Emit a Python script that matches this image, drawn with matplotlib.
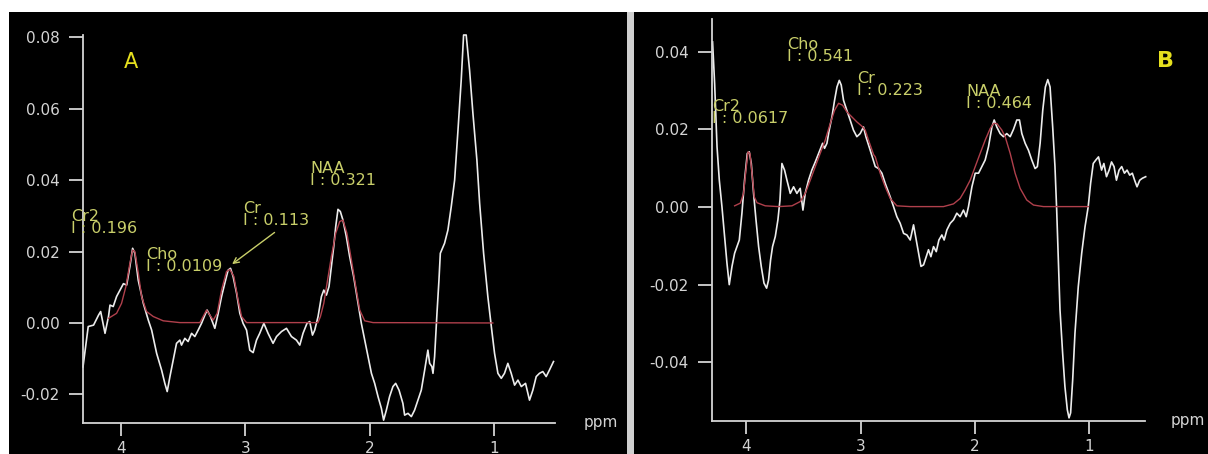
import numpy as np
import matplotlib
matplotlib.use("Agg")
import matplotlib.pyplot as plt
from matplotlib.patches import Rectangle

# spectrum A (white trace) : ppm, signal
a_ppm = [4.305, 4.263, 4.22, 4.18, 4.163, 4.128, 4.10, 4.088, 4.062, 4.035, 4.008, 3.98, 3.954, 3.928,
         3.906, 3.888, 3.861, 3.82, 3.78, 3.753, 3.713, 3.673, 3.647, 3.628, 3.606, 3.58, 3.553, 3.526,
         3.513, 3.486, 3.46, 3.432, 3.406, 3.379, 3.352, 3.325, 3.307, 3.28, 3.245, 3.218, 3.191, 3.165,
         3.138, 3.119, 3.098, 3.07, 3.044, 3.018, 2.99, 2.964, 2.937, 2.91, 2.884, 2.851, 2.817, 2.777,
         2.749, 2.709, 2.669, 2.629, 2.589, 2.562, 2.536, 2.504, 2.482, 2.46, 2.442, 2.415, 2.388, 2.369,
         2.348, 2.327, 2.308, 2.289, 2.273, 2.255, 2.236, 2.215, 2.188, 2.161, 2.129, 2.094, 2.067, 2.04,
         2.014, 1.986, 1.96, 1.933, 1.906, 1.888, 1.866, 1.84, 1.813, 1.791, 1.764, 1.733, 1.719, 1.692,
         1.665, 1.639, 1.612, 1.585, 1.558, 1.532, 1.518, 1.50, 1.491, 1.478, 1.459, 1.443, 1.432, 1.398,
         1.371, 1.344, 1.317, 1.29, 1.264, 1.245, 1.224, 1.197, 1.17, 1.138, 1.116, 1.084, 1.05, 1.022,
         0.996, 0.969, 0.942, 0.916, 0.889, 0.862, 0.835, 0.808, 0.781, 0.747, 0.715, 0.688, 0.661, 0.635,
         0.608, 0.581, 0.555, 0.522]
a_signal = [-0.0123, -0.0010, -0.0006, 0.0022, 0.0032, -0.0029, 0.0018, 0.0050, 0.0046, 0.0074, 0.0092,
            0.0110, 0.0106, 0.0158, 0.0209, 0.0195, 0.0120, 0.0055, 0.0008, -0.0020, -0.0085, -0.0132,
            -0.0169, -0.0192, -0.0150, -0.0104, -0.0057, -0.0048, -0.0062, -0.0043, -0.0052, -0.0029,
            -0.0038, -0.0020, -0.0001, 0.0022, 0.0036, 0.0018, -0.0015, 0.0027, 0.0074, 0.0111, 0.0148,
            0.0153, 0.0130, 0.0083, 0.0027, -0.0001, -0.0020, -0.0076, -0.0083, -0.0048, -0.0029, -0.0001,
            -0.0029, -0.0057, -0.0038, -0.0024, -0.0015, -0.0038, -0.0048, -0.0062, -0.0029, -0.0001,
            0.0004, -0.0034, -0.0020, 0.0018, 0.0074, 0.0092, 0.0078, 0.0102, 0.0158, 0.0214, 0.0270,
            0.0318, 0.0312, 0.0288, 0.0242, 0.0186, 0.0130, 0.0055, -0.0001, -0.0048, -0.0094, -0.0141,
            -0.0169, -0.0206, -0.0239, -0.0272, -0.0244, -0.0206, -0.0178, -0.0169, -0.0188, -0.0225,
            -0.0258, -0.0253, -0.0262, -0.0244, -0.0216, -0.0188, -0.0132, -0.0076, -0.0113, -0.0122,
            -0.0141, -0.0094, 0.0027, 0.0120, 0.0195, 0.0223, 0.0260, 0.0326, 0.0400, 0.0540, 0.0680,
            0.0806, 0.0806, 0.0708, 0.0587, 0.0456, 0.0335, 0.0195, 0.0074, -0.0010, -0.0085, -0.0141,
            -0.0155, -0.0141, -0.0113, -0.0141, -0.0174, -0.0160, -0.0178, -0.0169, -0.0216, -0.0188,
            -0.0150, -0.0141, -0.0136, -0.0150, -0.0132, -0.0108]

# spectrum A fitted curve
a_fit_ppm = [4.10, 4.035, 3.995, 3.96, 3.928, 3.906, 3.888, 3.86, 3.834, 3.794, 3.74, 3.66, 3.526, 3.365,
             3.333, 3.312, 3.285, 3.258, 3.226, 3.191, 3.151, 3.124, 3.092, 3.058, 3.03, 2.99, 2.416,
             2.396, 2.369, 2.343, 2.308, 2.273, 2.241, 2.215, 2.183, 2.147, 2.112, 2.08, 2.04, 1.973, 1.01]
a_fit = [0.0013, 0.0027, 0.0055, 0.0102, 0.0167, 0.0204, 0.0200, 0.0139, 0.0074, 0.0032, 0.0018, 0.0006,
         0.0001, 0.0001, 0.0022, 0.0036, 0.0022, 0.0008, 0.0027, 0.0092, 0.0144, 0.0150, 0.0130, 0.0064,
         0.0018, 0.0001, 0.0001, 0.0018, 0.0055, 0.0110, 0.0186, 0.0251, 0.0284, 0.0288, 0.0251, 0.0176,
         0.0102, 0.0036, 0.0006, 0.0001, 0.0000]

# spectrum B (white trace)
b_ppm = [4.295, 4.277, 4.256, 4.236, 4.213, 4.19, 4.169, 4.149, 4.125, 4.102, 4.081, 4.061, 4.038, 4.015,
         3.991, 3.974, 3.956, 3.936, 3.915, 3.892, 3.869, 3.845, 3.822, 3.805, 3.787, 3.77, 3.746, 3.723,
         3.705, 3.688, 3.665, 3.644, 3.615, 3.586, 3.557, 3.528, 3.504, 3.484, 3.455, 3.426, 3.396, 3.367,
         3.344, 3.332, 3.315, 3.294, 3.274, 3.25, 3.227, 3.206, 3.186, 3.169, 3.149, 3.12, 3.091, 3.062,
         3.032, 3.003, 2.974, 2.953, 2.915, 2.871, 2.842, 2.813, 2.784, 2.74, 2.711, 2.682, 2.653, 2.623,
         2.594, 2.565, 2.536, 2.512, 2.492, 2.471, 2.448, 2.425, 2.405, 2.384, 2.361, 2.337, 2.314, 2.288,
         2.268, 2.244, 2.215, 2.186, 2.157, 2.128, 2.099, 2.075, 2.055, 2.025, 1.996, 1.967, 1.938, 1.909,
         1.88, 1.85, 1.83, 1.807, 1.778, 1.749, 1.72, 1.69, 1.661, 1.632, 1.609, 1.588, 1.559, 1.53, 1.501,
         1.472, 1.452, 1.428, 1.405, 1.382, 1.361, 1.341, 1.318, 1.298, 1.283, 1.269, 1.254, 1.231, 1.211,
         1.19, 1.175, 1.161, 1.143, 1.123, 1.094, 1.064, 1.035, 1.007, 0.986, 0.963, 0.94, 0.917, 0.89,
         0.87, 0.847, 0.824, 0.803, 0.781, 0.76, 0.737, 0.714, 0.69, 0.667, 0.644, 0.621, 0.601, 0.58,
         0.556, 0.533, 0.504]
b_signal = [0.0425, 0.0318, 0.0155, 0.0069, 0.0001, -0.0076, -0.0145, -0.0200, -0.0153, -0.0119, -0.0102,
            -0.0085, -0.0016, 0.0069, 0.0138, 0.0142, 0.0112, 0.0035, -0.0033, -0.0102, -0.0153, -0.0196,
            -0.0209, -0.0188, -0.0136, -0.0102, -0.0076, -0.0033, 0.0018, 0.0112, 0.0095, 0.0069, 0.0035,
            0.0052, 0.0035, 0.0048, -0.0008, 0.0035, 0.0069, 0.0095, 0.0116, 0.0138, 0.0155, 0.0164, 0.0151,
            0.0164, 0.0198, 0.0232, 0.0275, 0.0309, 0.0326, 0.0314, 0.0275, 0.0249, 0.0224, 0.0198, 0.0181,
            0.0189, 0.0206, 0.0181, 0.0146, 0.0104, 0.0099, 0.0087, 0.0061, 0.0026, 0.0001, -0.0025, -0.0042,
            -0.0068, -0.0072, -0.0085, -0.0046, -0.0085, -0.0119, -0.0153, -0.0149, -0.0128, -0.0110,
            -0.0128, -0.0102, -0.0115, -0.0085, -0.0072, -0.0085, -0.0059, -0.0042, -0.0033, -0.0016,
            -0.0025, -0.0008, -0.0025, 0.0001, 0.0052, 0.0087, 0.0087, 0.0104, 0.0121, 0.0155, 0.0206,
            0.0224, 0.0206, 0.0189, 0.0181, 0.0189, 0.0181, 0.0200, 0.0224, 0.0224, 0.0189, 0.0164, 0.0146,
            0.0121, 0.0099, 0.0104, 0.0164, 0.0249, 0.0309, 0.0328, 0.0309, 0.0206, 0.0104, -0.0008, -0.0136,
            -0.0265, -0.0376, -0.0462, -0.0522, -0.0543, -0.0530, -0.0445, -0.0325, -0.0205, -0.0119,
            -0.0051, 0.0001, 0.0061, 0.0112, 0.0121, 0.0129, 0.0095, 0.0112, 0.0078, 0.0095, 0.0116, 0.0104,
            0.0069, 0.0095, 0.0104, 0.0087, 0.0095, 0.0082, 0.0087, 0.0069, 0.0052, 0.0069, 0.0074, 0.0078]

# spectrum B fitted curve
b_fit_ppm = [4.102, 4.052, 4.024, 4.003, 3.985, 3.968, 3.95, 3.93, 3.906, 3.834, 3.717, 3.6, 3.528, 3.484,
             3.44, 3.396, 3.353, 3.309, 3.265, 3.227, 3.192, 3.157, 3.12, 3.076, 3.032, 2.988, 2.959, 2.93,
             2.886, 2.871, 2.828, 2.784, 2.74, 2.682, 2.565, 2.274, 2.186, 2.128, 2.084, 2.04, 1.996, 1.953,
             1.909, 1.865, 1.836, 1.807, 1.763, 1.734, 1.69, 1.647, 1.603, 1.545, 1.486, 1.399, 1.005]
b_fit = [0.0003, 0.0010, 0.0035, 0.0095, 0.0142, 0.0138, 0.0087, 0.0026, 0.0011, 0.0003, 0.0001, 0.0003,
         0.0014, 0.0035, 0.0069, 0.0104, 0.0138, 0.0172, 0.0215, 0.0249, 0.0267, 0.0262, 0.0245, 0.0232,
         0.0219, 0.0208, 0.0198, 0.0172, 0.0135, 0.0129, 0.0087, 0.0052, 0.0022, 0.0003, 0.0001, 0.0001,
         0.0008, 0.0022, 0.0044, 0.0069, 0.0104, 0.0138, 0.0172, 0.0202, 0.0215, 0.0215, 0.0198, 0.0181,
         0.0138, 0.0087, 0.0048, 0.0018, 0.0005, 0.0001, 0.0001]

a_labels = ["Cr2\nI : 0.196", "Cho\nI : 0.0109", "Cr\nI : 0.113", "NAA\nI : 0.321"]
b_labels = ["Cr2\nI : 0.0617", "Cho\nI : 0.541", "Cr\nI : 0.223", "NAA\nI : 0.464"]
a_yticks = [0.08, 0.06, 0.04, 0.02, 0.00, -0.02]
b_yticks = [0.04, 0.02, 0.00, -0.04, -0.02]
x_ticks = [4, 3, 2, 1]

W, H = 1208, 454
fig = plt.figure(figsize=(W / 100, H / 100), dpi=100, facecolor="white")

# black screen panels and separator (behind the axes)
fig.patches.append(Rectangle((9 / W, 0), 618 / W, 442 / H, transform=fig.transFigure,
                             facecolor="black", edgecolor="none", zorder=-5))
fig.patches.append(Rectangle((627 / W, 0), 7 / W, 442 / H, transform=fig.transFigure,
                             facecolor="#cfcfcf", edgecolor="none", zorder=-5))
fig.patches.append(Rectangle((634 / W, 0), 574 / W, 442 / H, transform=fig.transFigure,
                             facecolor="black", edgecolor="none", zorder=-5))

txt_col = "#c9cf6a"
grey = "#d4d4d4"


def style_axes(ax, yticks, xlim, ylim):
    ax.set_facecolor("none")
    ax.set_xlim(*xlim)
    ax.set_ylim(*ylim)
    for s in ["top", "right"]:
        ax.spines[s].set_visible(False)
    for s in ["left", "bottom"]:
        ax.spines[s].set_color(grey)
        ax.spines[s].set_linewidth(1.3)
    ax.set_yticks(yticks)
    ax.set_yticklabels([f"{v:.2f}" for v in yticks])
    ax.set_xticks(x_ticks)
    ax.set_xticklabels([str(t) for t in x_ticks])
    ax.tick_params(axis="y", length=10, width=1.3, color=grey, labelcolor=grey, labelsize=11, pad=7)
    ax.tick_params(axis="x", length=9, width=1.3, color=grey, labelcolor=grey, labelsize=11, pad=4)
    ax.text(1.06, 0.0, "ppm", transform=ax.transAxes, color=grey, fontsize=11, va="center", ha="left")


# panel A
axA = fig.add_axes([83 / W, 31 / H, 472 / W, 388 / H])
style_axes(axA, a_yticks, (4.305, 0.51), (-0.028, 0.0806))
axA.plot(a_ppm, a_signal, color="#ececec", lw=1.2, clip_on=False)
axA.plot(a_fit_ppm, a_fit, color="#b0404c", lw=1.0, clip_on=False)
a_pos = [(4.40, 0.0318), (3.80, 0.0214), (3.02, 0.0340), (2.48, 0.0452)]
for (x, y), lab in zip(a_pos, a_labels):
    axA.text(x, y, lab, color=txt_col, fontsize=11.5, va="top", ha="left", linespacing=0.75)
axA.annotate("", xy=(3.124, 0.0160), xytext=(2.747, 0.0258),
             arrowprops=dict(arrowstyle="->", color=txt_col, lw=1.0))
axA.text(3.92, 0.073, "A", color="#e6e01e", fontsize=15, ha="center", va="center")

# panel B
axB = fig.add_axes([712 / W, 33 / H, 433 / W, 402 / H])
style_axes(axB, b_yticks, (4.30, 0.51), (-0.0551, 0.0484))
axB.plot(b_ppm, b_signal, color="#ececec", lw=1.2, clip_on=False)
axB.plot(b_fit_ppm, b_fit, color="#b0404c", lw=1.0, clip_on=False)
b_pos = [(4.30, 0.0279), (3.64, 0.0438), (3.03, 0.0351), (2.075, 0.0317)]
for (x, y), lab in zip(b_pos, b_labels):
    axB.text(x, y, lab, color=txt_col, fontsize=11.5, va="top", ha="left", linespacing=0.75)
axB.text(0.334, 0.0375, "B", color="#e6e01e", fontsize=16, fontweight="bold", ha="center", va="center")

fig.savefig("out.png", dpi=100, facecolor="white")
